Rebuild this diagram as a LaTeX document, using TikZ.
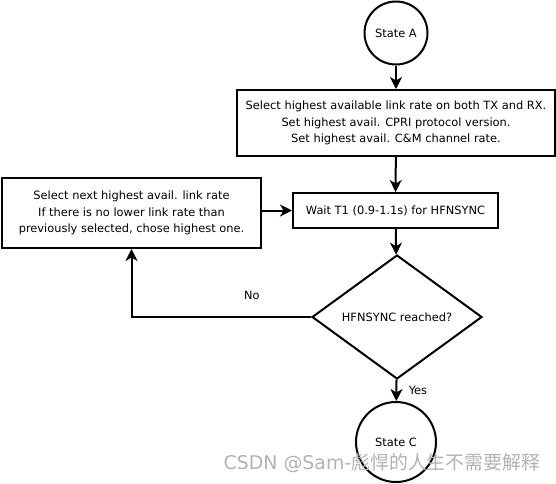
\documentclass[tikz,border=0pt]{standalone}
\usepackage{fontspec}
\setmainfont{DejaVu Sans}
\newfontfamily\cjkfont{Noto Sans CJK SC}
\usetikzlibrary{shapes.geometric,arrows.meta}
\begin{document}
\begin{tikzpicture}[x=1pt,y=-1pt,
  every node/.style={font=\fontsize{11.4}{16.5}\selectfont},
  basebox/.style={draw=black,line width=2pt,fill=white,inner sep=0pt,align=center},
  statebox/.style={basebox,circle},
  procbox/.style={basebox,rectangle},
  decbox/.style={basebox,diamond},
  flow/.style={line width=2pt,-{Stealth[length=12pt,width=12pt,inset=3.5pt]}}]
\useasboundingbox (0,0) rectangle (556,483);
\node[statebox,minimum size=63pt] (stA) at (396,33) {State A};
\node[procbox,minimum width=318pt,minimum height=66pt] (init) at (396,123)
  {Select highest available link rate on both TX and RX.\\Set highest avail. CPRI protocol version.\\Set highest avail. C\&M channel rate.};
\node[procbox,minimum width=205pt,minimum height=35pt] (wait) at (395.5,210.5)
  {Wait T1 (0.9-1.1s) for HFNSYNC};
\node[procbox,minimum width=259pt,minimum height=70pt] (next) at (131.5,213)
  {Select next highest avail. link rate\\If there is no lower link rate than\\previously selected, chose highest one.};
\node[decbox,minimum width=170pt,minimum height=124pt] (dec) at (397,317)
  {HFNSYNC reached?};
\node[statebox,minimum size=80pt] (stC) at (396,442) {State C};
\draw[flow] (stA) -- (init);
\draw[flow] (init) -- (wait);
\draw[flow] (wait) -- (dec);
\draw[flow] (dec) -- (stC) node[midway,right=8pt] (yes) {Yes};
\draw[flow] (next.east |- wait.west) -- (wait.west);
\draw[flow] (dec.west) -| (next.south) node[pos=0.165,above=13pt] (no) {No};
\node[text=black!30,font=\fontsize{18.9}{19}\selectfont] (wm) at (382,463)
  {CSDN @Sam-{\cjkfont 彪悍的人生不需要解释}};
\end{tikzpicture}
\end{document}
